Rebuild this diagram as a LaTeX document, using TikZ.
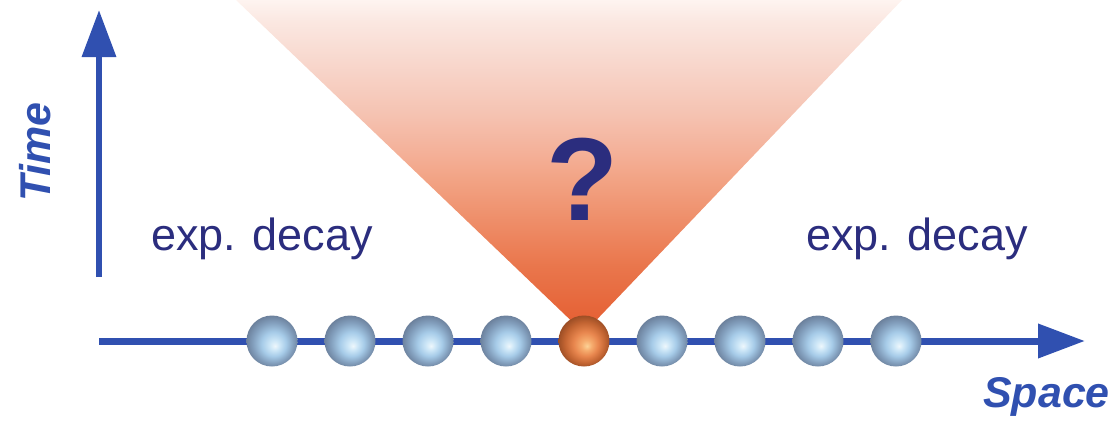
\documentclass[tikz,border=0pt]{standalone}
\usepackage{fontspec}
\setmainfont{Liberation Sans}
\usetikzlibrary{arrows.meta}

\definecolor{axisblue}{HTML}{3050B0}
\definecolor{textnavy}{HTML}{2B2D7E}

% sphere shadings: highlight a little below and right of the centre
% (a node's bounding box takes the inner 50bp of the shading, so the rim is at 25bp)
\pgfdeclareradialshading{bluesphere}{\pgfpoint{3bp}{-5bp}}{%
  color(0bp)=(rgb,255:red,238;green,247;blue,252);
  color(5bp)=(rgb,255:red,204;green,230;blue,247);
  color(12bp)=(rgb,255:red,166;green,203;blue,232);
  color(20bp)=(rgb,255:red,130;green,158;blue,188);
  color(30bp)=(rgb,255:red,92;green,108;blue,134)}
\pgfdeclareradialshading{orangesphere}{\pgfpoint{3bp}{-5bp}}{%
  color(0bp)=(rgb,255:red,252;green,210;blue,150);
  color(5bp)=(rgb,255:red,246;green,172;blue,110);
  color(12bp)=(rgb,255:red,232;green,134;blue,78);
  color(20bp)=(rgb,255:red,194;green,100;blue,50);
  color(30bp)=(rgb,255:red,128;green,62;blue,28)}

% light cone: saturated at the apex, fading to white at the top
\pgfdeclareverticalshading{conefade}{100bp}{%
  color(0bp)=(rgb,255:red,229;green,90;blue,48);
  color(25bp)=(rgb,255:red,229;green,90;blue,48);
  color(28bp)=(rgb,255:red,230;green,100;blue,56);
  color(35bp)=(rgb,255:red,233;green,118;blue,76);
  color(38bp)=(rgb,255:red,236;green,128;blue,88);
  color(48bp)=(rgb,255:red,242;green,163;blue,132);
  color(52bp)=(rgb,255:red,244;green,176;blue,152);
  color(58bp)=(rgb,255:red,245;green,195;blue,178);
  color(66bp)=(rgb,255:red,248;green,216;blue,206);
  color(72bp)=(rgb,255:red,251;green,232;blue,226);
  color(75bp)=(rgb,255:red,254;green,244;blue,240);
  color(100bp)=(rgb,255:red,254;green,244;blue,240)}

\tikzset{
  axis/.style={draw=axisblue, line width=7pt,
    -{Triangle[length=47pt,width=33pt]}},
  sphere/.style={circle, minimum size=51pt, inner sep=0pt, shade, shading=bluesphere},
  hotsphere/.style={sphere, shading=orangesphere},
  axislabel/.style={text=axisblue, font=\fontsize{43}{48}\selectfont\bfseries\itshape, inner sep=0pt},
  decaylabel/.style={text=textnavy, font=\fontsize{45}{54}\selectfont, inner sep=0pt, anchor=base west},
}

\begin{document}
\begin{tikzpicture}[x=1pt, y=-1pt]
  \useasboundingbox (0,0) rectangle (1118,431);

  % light cone above the excited site
  \coordinate (apex) at (584,333);
  \coordinate (coneL) at (236,0);
  \coordinate (coneR) at (902,0);
  \shade[shading=conefade] (coneL) -- (apex) -- (coneR) -- cycle;

  % axes
  \coordinate (tbase) at (99,277);
  \coordinate (ttip) at (99,10);
  \coordinate (sbase) at (99,341);
  \coordinate (stip) at (1085,341);
  \draw[axis, line width=6.5pt] (tbase) -- (ttip);
  \draw[axis] (sbase) -- (stip);

  % chain of sites
  \foreach \i/\x in {1/272, 2/350, 3/428, 4/506, 6/662, 7/740, 8/818, 9/896}
    \node[sphere] (s\i) at (\x,341) {};
  \node[hotsphere] (s5) at (584,341) {};

  % labels
  \node[axislabel, rotate=90] (time) at (35,152) {Time};
  \node[axislabel, anchor=base west] (space) at (983,407) {Space};
  \node[decaylabel] (decayL) at (151,250) {exp. decay};
  \node[decaylabel] (decayR) at (806,250) {exp. decay};
  \node[text=textnavy, font=\fontsize{118}{130}\selectfont\bfseries,
        inner sep=0pt, anchor=base] (q) at (583,220) {?};
\end{tikzpicture}
\end{document}
